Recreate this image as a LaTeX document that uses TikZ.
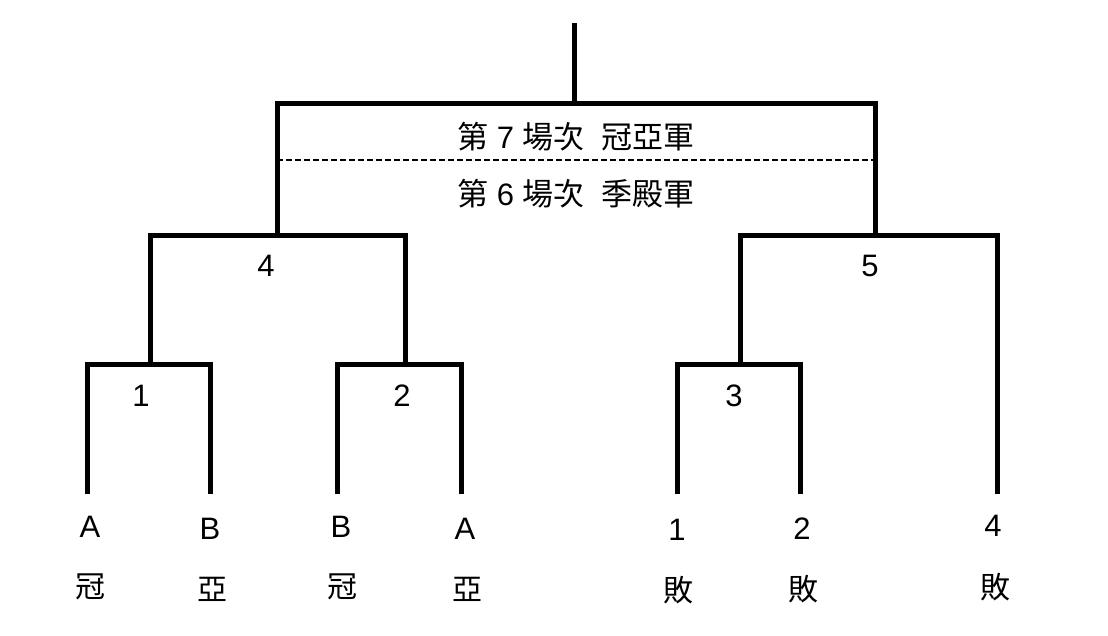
\documentclass[tikz,border=0pt]{standalone}
\usepackage{fontspec}
\setmainfont{Liberation Sans}
\newfontfamily\cjk{Noto Sans CJK TC}
\begin{document}
\begin{tikzpicture}[x=1pt,y=-1pt,
  bracket/.style={line width=5pt,line join=miter,line cap=butt},
  divider/.style={line width=2pt,dash pattern=on 6pt off 3pt},
  lbl/.style={inner sep=0pt,font=\fontsize{31}{31}\selectfont},
  cj/.style={inner sep=0pt,font=\fontsize{30}{30}\selectfont\cjk}]
\useasboundingbox[fill=white] (0,0) rectangle (1108,635);
% junction coordinates
\coordinate (top) at (574,23);
\coordinate (j7) at (574,103);
\coordinate (b7l) at (277,103); \coordinate (b7r) at (875,103);
\coordinate (d7l) at (277,160); \coordinate (d7r) at (875,160);
\coordinate (j4) at (277,235); \coordinate (j5) at (875,235);
\coordinate (b4l) at (150,235); \coordinate (b4r) at (405,235);
\coordinate (b5l) at (740,235); \coordinate (b5r) at (997,235);
\coordinate (j1) at (150,364); \coordinate (j2) at (405,364); \coordinate (j3) at (740,364);
\coordinate (b1l) at (87,364); \coordinate (b1r) at (210,364);
\coordinate (b2l) at (337,364); \coordinate (b2r) at (461,364);
\coordinate (b3l) at (677,364); \coordinate (b3r) at (800,364);
\coordinate (e1) at (87,494); \coordinate (e2) at (210,494);
\coordinate (e3) at (337,494); \coordinate (e4) at (461,494);
\coordinate (e5) at (677,494); \coordinate (e6) at (800,494);
\coordinate (e7) at (997,494);
% bracket lines
\draw[bracket] (top) -- (j7);
\draw[bracket] (j4) -- (b7l) -- (b7r) -- (j5);
\draw[divider] (d7l) -- (d7r);
\draw[bracket] (j1) -- (b4l) -- (b4r) -- (j2);
\draw[bracket] (j3) -- (b5l) -- (b5r) -- (e7);
\draw[bracket] (e1) -- (b1l) -- (b1r) -- (e2);
\draw[bracket] (e3) -- (b2l) -- (b2r) -- (e4);
\draw[bracket] (e5) -- (b3l) -- (b3r) -- (e6);
% final labels
\node[lbl,anchor=base] (g7) at (576,148) {{\cjk 第} 7 {\cjk 場次}\ \ {\cjk 冠亞軍}};
\node[lbl,anchor=base] (g6) at (576,205) {{\cjk 第} 6 {\cjk 場次}\ \ {\cjk 季殿軍}};
% match numbers
\node[lbl] (m4) at (266,266) {4};
\node[lbl] (m5) at (870,266) {5};
\node[lbl] (m1) at (141,396) {1};
\node[lbl] (m2) at (402,396) {2};
\node[lbl] (m3) at (734,396) {3};
% leaves
\node[lbl] (t1) at (90,527) {A};
\node[lbl] (t2) at (210,529) {B};
\node[lbl] (t3) at (341,527) {B};
\node[lbl] (t4) at (465,529) {A};
\node[lbl] (t5) at (677,530) {1};
\node[lbl] (t6) at (802,529) {2};
\node[lbl] (t7) at (993,526) {4};
\node[cj] (s1) at (90,587) {冠};
\node[cj] (s2) at (212,589) {亞};
\node[cj] (s3) at (342,587) {冠};
\node[cj] (s4) at (467,589) {亞};
\node[cj] (s5) at (678,590) {敗};
\node[cj] (s6) at (803,589) {敗};
\node[cj] (s7) at (995,587) {敗};
\end{tikzpicture}
\end{document}
